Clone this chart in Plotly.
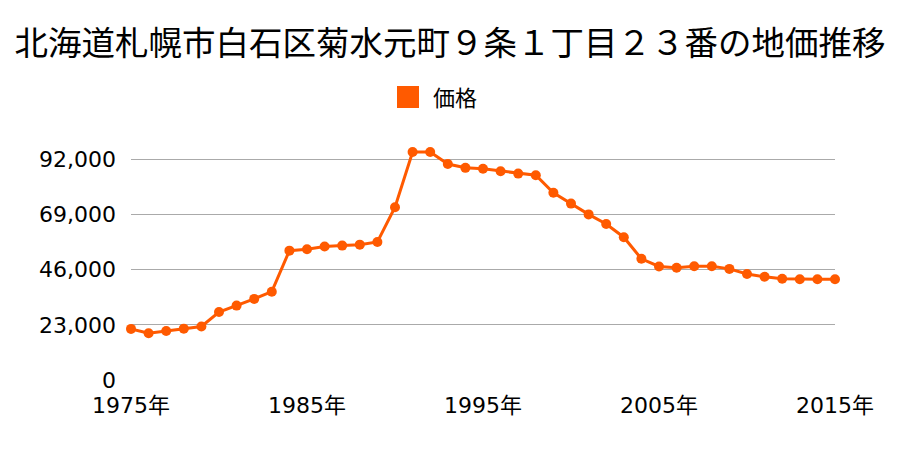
import plotly.graph_objects as go

years = list(range(1975, 2016))
prices = [21300, 19500, 20400, 21400, 22300, 28300, 31000, 33800, 36800, 53900,
          54500, 55600, 56000, 56400, 57500, 72000, 95000, 95000, 90000, 88400,
          88000, 87000, 86000, 85300, 78000, 73500, 69000, 65000, 59500, 50500,
          47300, 46800, 47400, 47400, 46300, 44200, 43000, 42200, 42000, 42000,
          42000]
series_name = "価格"
title_text = "北海道札幌市白石区菊水元町９条１丁目２３番の地価推移"
x_tick_vals = [1975, 1985, 1995, 2005, 2015]
x_tick_text = [f"{y}年" for y in x_tick_vals]
y_tick_vals = [0, 23000, 46000, 69000, 92000]
y_tick_text = ["0", "23,000", "46,000", "69,000", "92,000"]

color = "#ff5a00"
cjk = "Noto Sans CJK JP"
num = "DejaVu Sans, Noto Sans CJK JP"

fig = go.Figure()
fig.add_trace(go.Scatter(
    x=years, y=prices, mode="lines+markers", name=series_name,
    line=dict(color=color, width=3),
    marker=dict(color=color, size=10),
    cliponaxis=False, showlegend=False,
))

fig.update_layout(
    width=900, height=450,
    margin=dict(l=131, r=65, t=140, b=70),
    paper_bgcolor="white", plot_bgcolor="white",
    font=dict(family=num, color="#000"),
    title=dict(text=title_text, x=0.5, xanchor="center", y=1 - 43 / 450,
               yanchor="middle", font=dict(size=33.5, family=cjk, color="#000")),
    xaxis=dict(range=[1975, 2015], tickvals=x_tick_vals, ticktext=x_tick_text,
               showgrid=False, zeroline=False, showline=False, ticks="",
               tickfont=dict(size=22, family=num), ticklabelstandoff=10),
    yaxis=dict(range=[0, 100000], tickvals=y_tick_vals, ticktext=y_tick_text,
               showgrid=True, gridcolor="#aaaaaa", gridwidth=1,
               zeroline=False, showline=False, ticks="",
               tickfont=dict(size=22, family=num), ticklabelstandoff=14),
    showlegend=False,
    shapes=[dict(type="rect", xref="paper", yref="paper",
                 x0=(397 - 131) / 704, x1=(419 - 131) / 704,
                 y0=(380 - 108) / 240, y1=(380 - 86) / 240,
                 fillcolor=color, line=dict(width=0))],
    annotations=[dict(text=series_name, xref="paper", yref="paper",
                      x=(431 - 131) / 704, y=(380 - 96) / 240,
                      xanchor="left", yanchor="middle", showarrow=False,
                      font=dict(size=22, family=cjk, color="#000"))],
)

fig.write_html("out.html")
